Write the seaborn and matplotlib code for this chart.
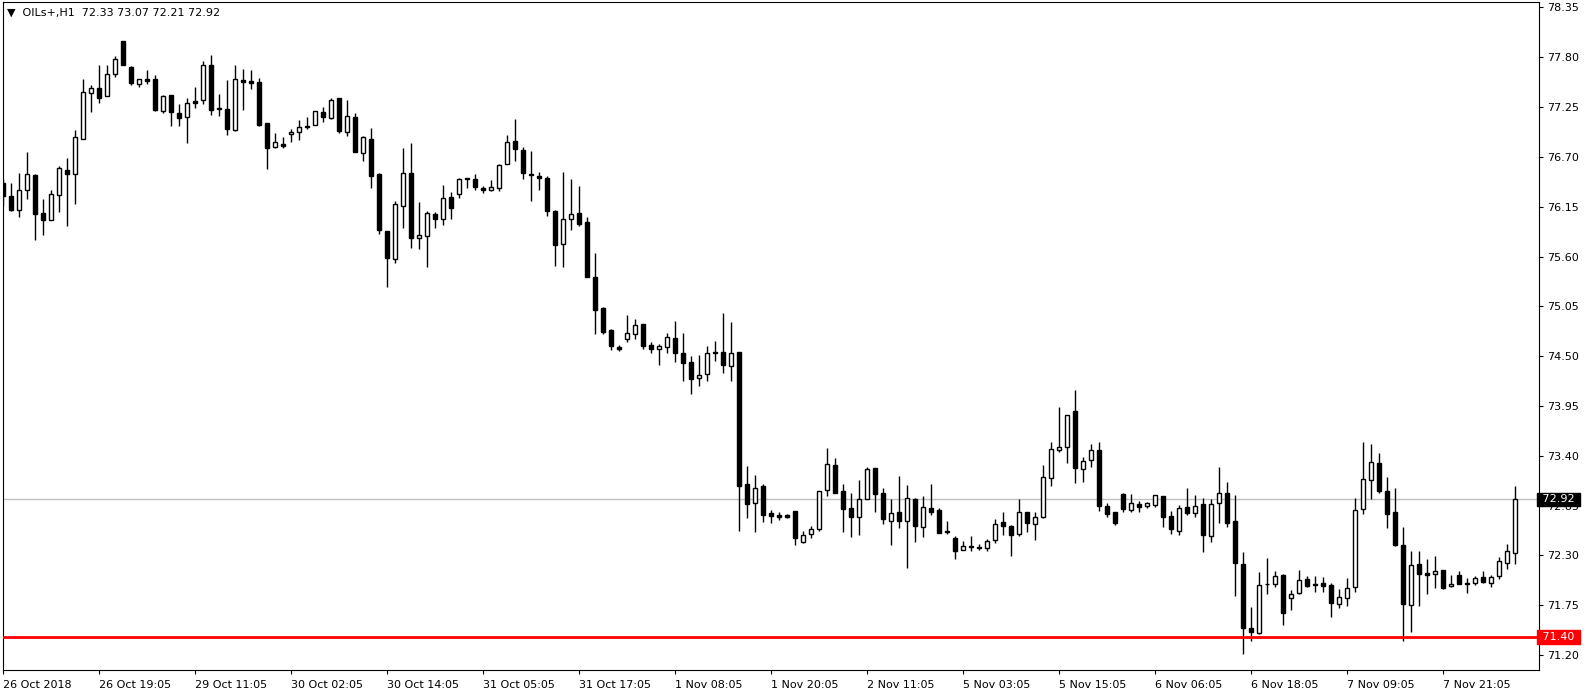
import numpy as np
import pandas as pd
import matplotlib
matplotlib.use('Agg')
import matplotlib.pyplot as plt
import matplotlib.transforms as mtransforms
import seaborn as sns

# OILs+ H1 bars (oldest first)
opens = [76.41, 76.27, 76.11, 76.33, 76.50, 76.08, 76.00, 76.28, 76.56, 76.51,
         76.90, 77.41, 77.46, 77.37, 77.61, 77.98, 77.69, 77.51, 77.56, 77.56,
         77.21, 77.38, 77.19, 77.14, 77.32, 77.33, 77.71, 77.24, 77.23, 77.00,
         77.55, 77.54, 77.53, 77.07, 76.81, 76.84, 76.95, 76.98, 77.04, 77.05,
         77.20, 77.13, 77.35, 76.98, 77.14, 76.74, 76.90, 76.51, 75.88, 75.57,
         76.16, 76.52, 75.81, 75.83, 76.07, 76.02, 76.26, 76.29, 76.47, 76.46,
         76.36, 76.34, 76.36, 76.62, 76.88, 76.78, 76.51, 76.49, 76.47, 76.10,
         75.74, 76.02, 76.08, 75.98, 75.37, 75.03, 74.79, 74.60, 74.69, 74.74,
         74.86, 74.62, 74.58, 74.60, 74.70, 74.53, 74.44, 74.26, 74.30, 74.55,
         74.55, 74.39, 74.55, 73.09, 72.88, 73.07, 72.77, 72.75, 72.75, 72.79,
         72.45, 72.54, 72.59, 73.02, 73.30, 73.01, 72.82, 72.73, 72.92, 73.27,
         72.99, 72.68, 72.78, 72.68, 72.92, 72.62, 72.82, 72.80, 72.57, 72.49,
         72.36, 72.40, 72.39, 72.38, 72.47, 72.67, 72.63, 72.54, 72.78, 72.65,
         72.73, 73.16, 73.47, 73.50, 73.89, 73.26, 73.35, 73.46, 72.85, 72.78,
         72.98, 72.80, 72.87, 72.85, 72.86, 72.96, 72.74, 72.57, 72.83, 72.77,
         72.87, 72.52, 72.88, 72.99, 72.68, 72.21, 71.50, 71.44, 71.98, 71.99,
         72.08, 71.83, 71.89, 72.04, 71.99, 72.00, 71.97, 71.77, 71.83, 71.95,
         72.81, 73.13, 73.32, 73.01, 72.78, 72.42, 71.75, 72.21, 72.11, 72.10,
         72.14, 71.96, 72.08, 72.00, 72.00, 72.06, 72.00, 72.07, 72.22, 72.33]
highs = [76.46, 76.41, 76.52, 76.75, 76.51, 76.23, 76.34, 76.60, 76.69, 77.00,
         77.56, 77.49, 77.71, 77.72, 77.81, 77.98, 77.70, 77.56, 77.66, 77.60,
         77.38, 77.38, 77.28, 77.35, 77.47, 77.76, 77.82, 77.39, 77.55, 77.72,
         77.67, 77.66, 77.57, 77.07, 76.96, 76.92, 77.01, 77.11, 77.14, 77.21,
         77.25, 77.35, 77.35, 77.33, 77.18, 76.93, 77.02, 76.52, 75.88, 76.21,
         76.80, 76.85, 76.20, 76.10, 76.09, 76.39, 76.31, 76.47, 76.47, 76.51,
         76.38, 76.44, 76.62, 76.94, 77.12, 76.81, 76.76, 76.53, 76.49, 76.11,
         76.53, 76.46, 76.38, 76.04, 75.64, 75.04, 74.80, 74.62, 74.96, 74.91,
         74.86, 74.66, 74.64, 74.76, 74.89, 74.76, 74.50, 74.51, 74.61, 74.67,
         74.98, 74.88, 74.55, 73.29, 73.19, 73.09, 72.80, 72.78, 72.76, 72.79,
         72.57, 72.63, 73.01, 73.49, 73.38, 73.09, 72.99, 73.13, 73.28, 73.27,
         73.05, 72.92, 73.18, 73.08, 72.94, 72.96, 73.09, 72.82, 72.68, 72.52,
         72.46, 72.51, 72.43, 72.48, 72.70, 72.78, 72.64, 72.92, 72.78, 72.78,
         73.30, 73.55, 73.94, 73.85, 74.13, 73.39, 73.53, 73.55, 72.88, 72.78,
         72.99, 72.98, 72.90, 72.89, 72.97, 72.96, 72.79, 72.86, 73.05, 72.97,
         72.93, 72.92, 73.28, 73.11, 72.97, 72.34, 71.73, 72.12, 72.27, 72.13,
         72.10, 71.92, 72.14, 72.07, 72.07, 72.06, 72.00, 71.93, 72.05, 72.94,
         73.55, 73.53, 73.43, 73.17, 73.04, 72.61, 72.35, 72.35, 72.26, 72.29,
         72.14, 72.08, 72.13, 72.05, 72.07, 72.13, 72.08, 72.28, 72.43, 73.07]
lows = [76.16, 76.10, 76.04, 76.24, 75.78, 75.84, 76.00, 76.09, 75.94, 76.18,
        76.90, 77.20, 77.29, 77.37, 77.58, 77.71, 77.49, 77.47, 77.50, 77.21,
        77.18, 77.04, 77.04, 76.85, 77.24, 77.28, 77.16, 77.15, 76.94, 76.99,
        77.22, 77.45, 77.04, 76.57, 76.80, 76.80, 76.86, 76.89, 77.01, 77.05,
        77.09, 77.12, 76.96, 76.93, 76.75, 76.66, 76.36, 75.85, 75.26, 75.53,
        75.91, 75.69, 75.68, 75.49, 75.91, 75.95, 76.02, 76.25, 76.36, 76.33,
        76.30, 76.32, 76.32, 76.62, 76.65, 76.46, 76.21, 76.33, 76.05, 75.50,
        75.48, 75.89, 75.94, 75.37, 74.75, 74.74, 74.57, 74.56, 74.66, 74.69,
        74.58, 74.54, 74.40, 74.53, 74.44, 74.23, 74.08, 74.17, 74.23, 74.45,
        74.32, 74.23, 72.57, 72.71, 72.56, 72.67, 72.66, 72.69, 72.71, 72.42,
        72.44, 72.49, 72.57, 72.96, 72.99, 72.56, 72.50, 72.53, 72.92, 72.78,
        72.65, 72.42, 72.60, 72.16, 72.45, 72.50, 72.75, 72.55, 72.54, 72.26,
        72.36, 72.35, 72.36, 72.35, 72.44, 72.53, 72.29, 72.51, 72.56, 72.47,
        72.71, 73.07, 73.44, 73.32, 73.10, 73.11, 73.28, 72.79, 72.72, 72.64,
        72.78, 72.78, 72.78, 72.82, 72.84, 72.62, 72.54, 72.53, 72.75, 72.73,
        72.34, 72.45, 72.66, 72.61, 71.85, 71.21, 71.36, 71.43, 71.87, 71.95,
        71.53, 71.70, 71.88, 71.95, 71.90, 71.90, 71.62, 71.72, 71.74, 71.90,
        72.76, 72.92, 72.99, 72.60, 72.41, 71.36, 71.46, 71.74, 71.88, 71.94,
        71.93, 71.95, 71.99, 71.89, 71.97, 72.00, 71.95, 72.04, 72.15, 72.21]
closes = [76.27, 76.11, 76.34, 76.51, 76.07, 76.00, 76.29, 76.58, 76.51, 76.92,
          77.42, 77.46, 77.35, 77.62, 77.78, 77.72, 77.52, 77.56, 77.54, 77.22,
          77.37, 77.20, 77.13, 77.29, 77.30, 77.72, 77.22, 77.23, 77.01, 77.56,
          77.53, 77.52, 77.05, 76.80, 76.86, 76.82, 76.97, 77.03, 77.03, 77.21,
          77.14, 77.33, 76.99, 77.15, 76.75, 76.92, 76.49, 75.89, 75.58, 76.18,
          76.52, 75.80, 75.84, 76.08, 76.01, 76.25, 76.14, 76.46, 76.46, 76.37,
          76.33, 76.37, 76.61, 76.86, 76.79, 76.52, 76.50, 76.47, 76.10, 75.73,
          76.01, 76.07, 75.96, 75.37, 75.01, 74.77, 74.61, 74.58, 74.76, 74.84,
          74.61, 74.58, 74.61, 74.71, 74.54, 74.42, 74.25, 74.29, 74.53, 74.54,
          74.40, 74.54, 73.07, 72.87, 73.05, 72.75, 72.74, 72.73, 72.72, 72.49,
          72.53, 72.59, 73.01, 73.31, 72.99, 72.81, 72.72, 72.92, 73.26, 72.98,
          72.70, 72.77, 72.68, 72.93, 72.63, 72.83, 72.78, 72.55, 72.56, 72.35,
          72.41, 72.39, 72.38, 72.46, 72.65, 72.63, 72.53, 72.78, 72.66, 72.72,
          73.17, 73.48, 73.50, 73.85, 73.27, 73.34, 73.47, 72.85, 72.76, 72.66,
          72.81, 72.88, 72.84, 72.88, 72.97, 72.72, 72.59, 72.82, 72.77, 72.85,
          72.53, 72.87, 72.99, 72.66, 72.22, 71.50, 71.45, 71.97, 71.99, 72.07,
          71.66, 71.88, 72.03, 71.96, 71.97, 71.96, 71.78, 71.84, 71.94, 72.80,
          73.14, 73.33, 73.01, 72.76, 72.42, 71.76, 72.20, 72.10, 72.09, 72.13,
          71.94, 71.99, 71.99, 71.99, 72.05, 72.01, 72.06, 72.24, 72.35, 72.92]

time_labels = ['26 Oct 2018', '26 Oct 19:05', '29 Oct 11:05', '30 Oct 02:05',
               '30 Oct 14:05', '31 Oct 05:05', '31 Oct 17:05', '1 Nov 08:05',
               '1 Nov 20:05', '2 Nov 11:05', '5 Nov 03:05', '5 Nov 15:05',
               '6 Nov 06:05', '6 Nov 18:05', '7 Nov 09:05', '7 Nov 21:05']
price_ticks = [71.20, 71.75, 72.30, 72.85, 73.40, 73.95, 74.50, 75.05,
               75.60, 76.15, 76.70, 77.25, 77.80, 78.35]
bid_price = 72.92
level_price = 71.40

df = pd.DataFrame({'open': opens, 'high': highs, 'low': lows, 'close': closes})
df['bar'] = np.arange(len(df))
df['up'] = df['close'] >= df['open']

sns.set_theme(style='white')
plt.rcParams['font.family'] = ['DejaVu Sans']

W, H = 1584, 697
fig = plt.figure(figsize=(W / 100, H / 100), dpi=100)
ax = fig.add_axes([2.7 / W, 1 - 670 / H, (1539 - 2.7) / W, (670 - 2) / H])

# wicks
ax.vlines(df['bar'], df['low'], df['high'], color='black', linewidth=1, zorder=2)
# bodies
body_bottom = df[['open', 'close']].min(axis=1)
body_height = (df['close'] - df['open']).abs()
ax.bar(df['bar'], body_height, bottom=body_bottom, width=0.5,
       color=np.where(df['up'], 'white', 'black'), edgecolor='black',
       linewidth=1, zorder=3)

# bid line and level line
ax.axhline(bid_price, color='#c0c0c0', linewidth=1, zorder=1)
ax.axhline(level_price, color='#ff0000', linewidth=2, zorder=4)

ax.set_xlim(-0.075, 191.96)
ax.set_ylim(71.036, 78.41)

ax.yaxis.tick_right()
ax.set_yticks(price_ticks)
ax.set_yticklabels(['%.2f' % p for p in price_ticks])
ax.set_xticks(np.arange(0, len(df), 12))
ax.set_xticklabels(time_labels, ha='left')
ax.tick_params(axis='both', which='both', direction='out', length=3, width=0.8,
               colors='black', labelsize=8, pad=3)
ax.tick_params(axis='y', left=False, right=True)
ax.tick_params(axis='x', bottom=True, pad=4)

for s in ax.spines.values():
    s.set_color('black')
    s.set_linewidth(0.8)

blend = mtransforms.blended_transform_factory(ax.transAxes, ax.transData)
ax.text(1.0, bid_price, ' 72.92 ', transform=blend, ha='left', va='center',
        fontsize=8, color='white', clip_on=False, zorder=10,
        bbox=dict(facecolor='black', edgecolor='black', pad=1.2))
ax.text(1.0, level_price, ' 71.40 ', transform=blend, ha='left', va='center',
        fontsize=8, color='white', clip_on=False, zorder=10,
        bbox=dict(facecolor='#ff0000', edgecolor='#ff0000', pad=1.2))

ax.text(0.003, 0.992, '\u25bc  OILs+,H1  72.33 73.07 72.21 72.92',
        transform=ax.transAxes, ha='left', va='top', fontsize=8, color='black')

ax.set_xlabel('')
ax.set_ylabel('')
fig.savefig('out.png', dpi=100, facecolor='white')
